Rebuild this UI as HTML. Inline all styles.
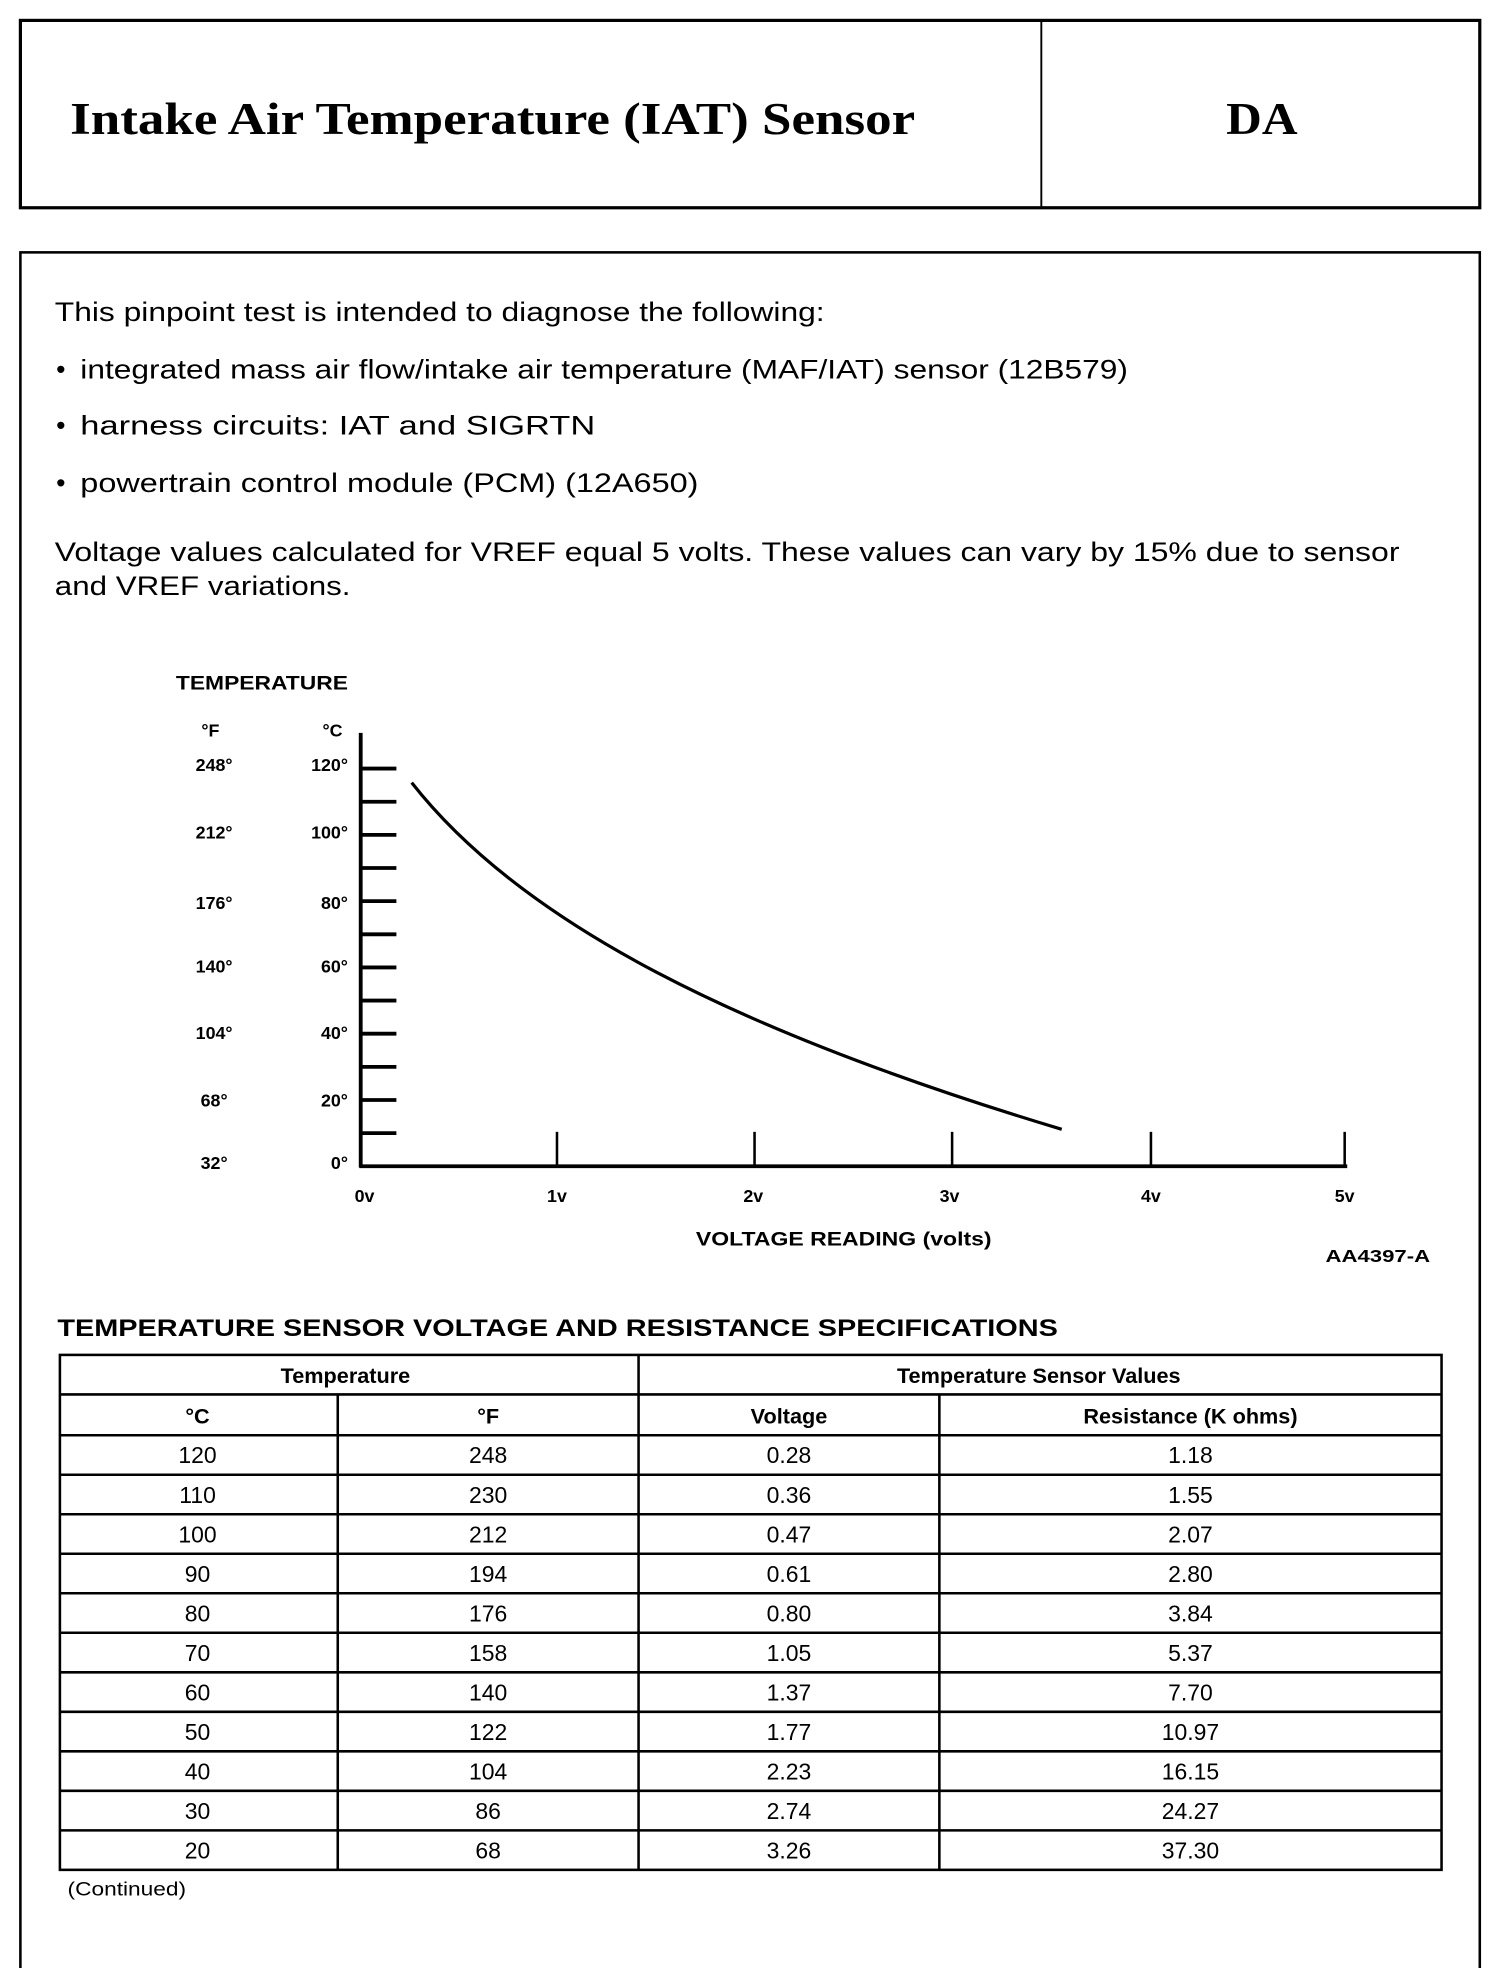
<!DOCTYPE html>
<html><head><meta charset="utf-8"><style>
html,body{margin:0;padding:0;background:#fff}
svg{display:block}
text{font-family:"Liberation Sans",Arial,sans-serif;fill:#000}
.s{font-family:"Liberation Serif","Times New Roman",serif;font-weight:bold}
.b{font-weight:bold}
</style></head><body>
<svg width="1504" height="1968" viewBox="0 0 1180 1544" preserveAspectRatio="none" xmlns="http://www.w3.org/2000/svg">
<rect x="0" y="0" width="1180" height="1544" fill="#fff"/>
<rect x="16" y="16" width="1145" height="147" fill="none" stroke="#000" stroke-width="2.5"/>
<line x1="817" y1="16" x2="817" y2="163" stroke="#000" stroke-width="1.5"/>
<text class="s" x="55" y="105" font-size="36" textLength="663" lengthAdjust="spacingAndGlyphs">Intake Air Temperature (IAT) Sensor</text>
<text class="s" x="962" y="105" font-size="36" textLength="56" lengthAdjust="spacingAndGlyphs">DA</text>
<rect x="16" y="198" width="1145" height="1356" fill="none" stroke="#000" stroke-width="2"/>
<g font-size="21">
<text x="43" y="252" textLength="604" lengthAdjust="spacingAndGlyphs">This pinpoint test is intended to diagnose the following:</text>
<text x="44" y="297">•</text><text x="63" y="297" textLength="822" lengthAdjust="spacingAndGlyphs">integrated mass air flow/intake air temperature (MAF/IAT) sensor (12B579)</text>
<text x="44" y="341">•</text><text x="63" y="341" textLength="404" lengthAdjust="spacingAndGlyphs">harness circuits: IAT and SIGRTN</text>
<text x="44" y="386">•</text><text x="63" y="386" textLength="485" lengthAdjust="spacingAndGlyphs">powertrain control module (PCM) (12A650)</text>
<text x="43" y="440" textLength="1055" lengthAdjust="spacingAndGlyphs">Voltage values calculated for VREF equal 5 volts. These values can vary by 15% due to sensor</text>
<text x="43" y="467" textLength="232" lengthAdjust="spacingAndGlyphs">and VREF variations.</text>
</g>
<text class="b" x="138" y="541" font-size="15" textLength="135" lengthAdjust="spacingAndGlyphs">TEMPERATURE</text>
<g font-size="14" class="b">
<text x="158" y="578">°F</text><text x="253" y="578">°C</text>
<g text-anchor="middle">
<text x="168" y="605">248°</text><text x="168" y="658">212°</text><text x="168" y="713">176°</text><text x="168" y="763">140°</text><text x="168" y="815">104°</text><text x="168" y="868">68°</text><text x="168" y="917">32°</text>
</g>
<g text-anchor="end">
<text x="273" y="605">120°</text><text x="273" y="658">100°</text><text x="273" y="713">80°</text><text x="273" y="763">60°</text><text x="273" y="815">40°</text><text x="273" y="868">20°</text><text x="273" y="917">0°</text>
</g>
<g text-anchor="middle">
<text x="286" y="943">0v</text><text x="437" y="943">1v</text><text x="591" y="943">2v</text><text x="745" y="943">3v</text><text x="903" y="943">4v</text><text x="1055" y="943">5v</text>
</g>
</g>
<line x1="283" y1="575" x2="283" y2="916" stroke="#000" stroke-width="3"/>
<line x1="282" y1="915" x2="1057" y2="915" stroke="#000" stroke-width="3"/>
<g stroke="#000" stroke-width="3">
<line x1="283" y1="603" x2="311" y2="603"/><line x1="283" y1="629" x2="311" y2="629"/><line x1="283" y1="655" x2="311" y2="655"/><line x1="283" y1="681" x2="311" y2="681"/><line x1="283" y1="707" x2="311" y2="707"/><line x1="283" y1="733" x2="311" y2="733"/><line x1="283" y1="759" x2="311" y2="759"/><line x1="283" y1="785" x2="311" y2="785"/><line x1="283" y1="811" x2="311" y2="811"/><line x1="283" y1="837" x2="311" y2="837"/><line x1="283" y1="863" x2="311" y2="863"/><line x1="283" y1="889" x2="311" y2="889"/>
</g>
<g stroke="#000" stroke-width="2">
<line x1="437" y1="888" x2="437" y2="915"/><line x1="592" y1="888" x2="592" y2="915"/><line x1="747" y1="888" x2="747" y2="915"/><line x1="903" y1="888" x2="903" y2="915"/><line x1="1055" y1="888" x2="1055" y2="915"/>
</g>
<path fill="none" stroke="#000" stroke-width="2.5" d="M323,614 C410,725 580,810 833,886"/>
<text class="b" x="546" y="977" font-size="15" textLength="232" lengthAdjust="spacingAndGlyphs">VOLTAGE READING (volts)</text>
<text class="b" x="1040" y="990" font-size="14" textLength="82" lengthAdjust="spacingAndGlyphs">AA4397-A</text>
<text class="b" x="45" y="1048" font-size="19" textLength="785" lengthAdjust="spacingAndGlyphs">TEMPERATURE SENSOR VOLTAGE AND RESISTANCE SPECIFICATIONS</text>
<g stroke="#000" stroke-width="2" fill="none">
<rect x="47" y="1063" width="1084" height="404"/>
<line x1="501" y1="1063" x2="501" y2="1467"/>
<line x1="265" y1="1094" x2="265" y2="1467"/>
<line x1="737" y1="1094" x2="737" y2="1467"/>
<line x1="47" y1="1094" x2="1131" y2="1094"/>
<line x1="47" y1="1126" x2="1131" y2="1126"/>
<line x1="47" y1="1157" x2="1131" y2="1157"/><line x1="47" y1="1188" x2="1131" y2="1188"/><line x1="47" y1="1219" x2="1131" y2="1219"/><line x1="47" y1="1250" x2="1131" y2="1250"/><line x1="47" y1="1281" x2="1131" y2="1281"/><line x1="47" y1="1312" x2="1131" y2="1312"/><line x1="47" y1="1343" x2="1131" y2="1343"/><line x1="47" y1="1374" x2="1131" y2="1374"/><line x1="47" y1="1405" x2="1131" y2="1405"/><line x1="47" y1="1436" x2="1131" y2="1436"/>
</g>
<g class="b" font-size="17" text-anchor="middle">
<text x="271" y="1085">Temperature</text>
<text x="815" y="1085">Temperature Sensor Values</text>
<text x="155" y="1117">°C</text><text x="383" y="1117">°F</text><text x="619" y="1117">Voltage</text><text x="934" y="1117">Resistance (K ohms)</text>
</g>
<g font-size="18" text-anchor="middle">
<text x="155" y="1148">120</text><text x="383" y="1148">248</text><text x="619" y="1148">0.28</text><text x="934" y="1148">1.18</text>
<text x="155" y="1179">110</text><text x="383" y="1179">230</text><text x="619" y="1179">0.36</text><text x="934" y="1179">1.55</text>
<text x="155" y="1210">100</text><text x="383" y="1210">212</text><text x="619" y="1210">0.47</text><text x="934" y="1210">2.07</text>
<text x="155" y="1241">90</text><text x="383" y="1241">194</text><text x="619" y="1241">0.61</text><text x="934" y="1241">2.80</text>
<text x="155" y="1272">80</text><text x="383" y="1272">176</text><text x="619" y="1272">0.80</text><text x="934" y="1272">3.84</text>
<text x="155" y="1303">70</text><text x="383" y="1303">158</text><text x="619" y="1303">1.05</text><text x="934" y="1303">5.37</text>
<text x="155" y="1334">60</text><text x="383" y="1334">140</text><text x="619" y="1334">1.37</text><text x="934" y="1334">7.70</text>
<text x="155" y="1365">50</text><text x="383" y="1365">122</text><text x="619" y="1365">1.77</text><text x="934" y="1365">10.97</text>
<text x="155" y="1396">40</text><text x="383" y="1396">104</text><text x="619" y="1396">2.23</text><text x="934" y="1396">16.15</text>
<text x="155" y="1427">30</text><text x="383" y="1427">86</text><text x="619" y="1427">2.74</text><text x="934" y="1427">24.27</text>
<text x="155" y="1458">20</text><text x="383" y="1458">68</text><text x="619" y="1458">3.26</text><text x="934" y="1458">37.30</text>
</g>
<text x="53" y="1487" font-size="15" textLength="93" lengthAdjust="spacingAndGlyphs">(Continued)</text>
</svg>
</body></html>
